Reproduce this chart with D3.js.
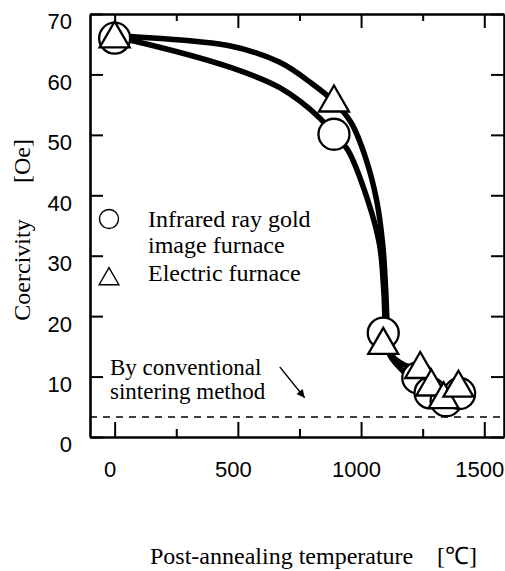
<!DOCTYPE html>
<html>
<head>
<meta charset="utf-8">
<script src="https://cdn.jsdelivr.net/npm/d3@7/dist/d3.min.js"></script>
<style>
  body { margin: 0; background: #fff; }
</style>
</head>
<body>
<div id="chart"></div>
<script>
/* global d3 */

// measured points
const tempIR = [0, 890, 1090, 1230, 1280, 1345, 1400]
const coerIR = [66, 50.1, 17.2, 9.8, 7.3, 6.0, 7.2]
const tempEF = [0, 890, 1090, 1240, 1285, 1335, 1395]
const coerEF = [65.9, 55.3, 15.2, 11.2, 8.3, 6.2, 8.1]

// trend curves as drawn in the figure
const lineTempIR = [0, 61, 467, 670, 832, 889, 946, 1027, 1075, 1092, 1100, 1116, 1197, 1278, 1347, 1408]
const lineCoerIR = [66.2, 65.7, 61.2, 57.8, 52.8, 50.1, 47.5, 39.2, 31.8, 24.3, 17.7, 13.6, 9.9, 7.4, 6.1, 7.3]
const lineTempEF = [0, 470, 670, 800, 890, 960, 1020, 1063, 1088, 1100, 1108, 1124, 1177, 1242, 1286, 1335, 1396]
const lineCoerEF = [66.4, 64.7, 62.0, 58.5, 55.5, 52.0, 46.0, 39.2, 31.8, 24.3, 17.7, 13.6, 11.9, 11.2, 8.3, 6.4, 8.1]

const xMajor = [0, 500, 1000, 1500]
const xMinor = [250, 750, 1250]
const yTicks = [0, 10, 20, 30, 40, 50, 60, 70]
const sinteringLevel = 3.3
const arrowFrom = [670, 11.6]
const arrowTo = [771, 6.5]

const width = 505,
  height = 571
const plotLeft = 90, plotRight = 504, plotTop = 14, plotBottom = 437
const serif = '"Liberation Serif", "Times New Roman", serif'
const sans = '"Liberation Sans", Arial, sans-serif'

let svg = d3.select('#chart')
  .append('svg')
  .attr('width', width)
  .attr('height', height)
  .style('background', '#fff')

const x = d3.scaleLinear().domain([-100, 1580]).range([plotLeft, plotRight])
const y = d3.scaleLinear().domain([0, 70]).range([plotBottom, plotTop])

const styleAxis = (g) => {
  g.attr('font-family', sans).attr('font-size', 22)
  g.select('.domain').attr('stroke', '#000').attr('stroke-width', 2.6)
  g.selectAll('.tick line').attr('stroke', '#000').attr('stroke-width', 2)
  g.selectAll('.tick text').attr('fill', '#000')
}

// bottom axis
svg.append('g')
  .attr('transform', `translate(0,${plotBottom})`)
  .call(d3.axisBottom(x).tickValues(xMajor).tickFormat(d3.format('d'))
    .tickSizeInner(-15).tickSizeOuter(0).tickPadding(24))
  .call(styleAxis)
  .call(g => g.selectAll('.tick text').attr('dx', -5))

svg.append('g')
  .attr('transform', `translate(0,${plotBottom})`)
  .call(d3.axisBottom(x).tickValues(xMinor).tickSize(-8).tickFormat(''))
  .call(styleAxis)
  .call(g => g.select('.domain').remove())

// top axis
svg.append('g')
  .attr('transform', `translate(0,${plotTop})`)
  .call(d3.axisTop(x).tickValues(xMajor).tickSizeInner(-14).tickSizeOuter(0).tickFormat(''))
  .call(styleAxis)

svg.append('g')
  .attr('transform', `translate(0,${plotTop})`)
  .call(d3.axisTop(x).tickValues(xMinor).tickSize(-7).tickFormat(''))
  .call(styleAxis)
  .call(g => g.select('.domain').remove())

// left axis
svg.append('g')
  .attr('transform', `translate(${plotLeft},0)`)
  .call(d3.axisLeft(y).tickValues(yTicks).tickSizeInner(-13).tickSizeOuter(0).tickPadding(18))
  .call(styleAxis)
  .call(g => g.selectAll('.tick text').attr('dy', '0.68em'))

// right axis
svg.append('g')
  .attr('transform', `translate(${plotRight},0)`)
  .call(d3.axisRight(y).tickValues(yTicks).tickSizeInner(-13).tickSizeOuter(0).tickFormat(''))
  .call(styleAxis)

// conventional sintering level
svg.append('line')
  .attr('x1', x.range()[0])
  .attr('x2', x.range()[1])
  .attr('y1', y(sinteringLevel))
  .attr('y2', y(sinteringLevel))
  .attr('stroke', '#000')
  .attr('stroke-width', 1.5)
  .attr('stroke-dasharray', '7,6')

// trend curves
const line = d3.line()
  .x(d => x(d[0]))
  .y(d => y(d[1]))
  .curve(d3.curveCatmullRom.alpha(0.5))

svg.append('path')
  .datum(d3.zip(lineTempIR, lineCoerIR))
  .attr('d', line)
  .attr('fill', 'none')
  .attr('stroke', '#000')
  .attr('stroke-width', 5.5)

svg.append('path')
  .datum(d3.zip(lineTempEF, lineCoerEF))
  .attr('d', line)
  .attr('fill', 'none')
  .attr('stroke', '#000')
  .attr('stroke-width', 5.5)

// markers
svg.selectAll('circle.ir')
  .data(d3.zip(tempIR, coerIR))
  .enter()
  .append('circle')
  .attr('class', 'ir')
  .attr('cx', d => x(d[0]))
  .attr('cy', d => y(d[1]))
  .attr('r', 15.5)
  .attr('fill', '#fff')
  .attr('stroke', '#000')
  .attr('stroke-width', 2.3)

const tri = d3.symbol(d3.symbolTriangle, 390)

svg.selectAll('path.ef')
  .data(d3.zip(tempEF, coerEF))
  .enter()
  .append('path')
  .attr('class', 'ef')
  .attr('d', tri)
  .attr('transform', d => `translate(${x(d[0])},${y(d[1])})`)
  .attr('fill', '#fff')
  .attr('stroke', '#000')
  .attr('stroke-width', 2.3)
  .attr('stroke-linejoin', 'miter')

// legend
svg.append('circle')
  .attr('cx', 109).attr('cy', 219).attr('r', 9.5)
  .attr('fill', '#fff').attr('stroke', '#000').attr('stroke-width', 1.4)

svg.append('path')
  .attr('d', d3.symbol(d3.symbolTriangle, 170)())
  .attr('transform', 'translate(109,279)')
  .attr('fill', '#fff').attr('stroke', '#000').attr('stroke-width', 1.4)

const label = (tx, ty, str, size = 24) => svg.append('text')
  .attr('x', tx).attr('y', ty)
  .attr('font-family', serif)
  .attr('font-size', size)
  .attr('fill', '#000')
  .text(str)

label(148, 227, 'Infrared ray gold')
label(148, 253, 'image furnace')
label(148, 281, 'Electric furnace')

// annotation
label(110, 375, 'By conventional', 23)
label(110, 399, 'sintering method', 23)

svg.append('defs').append('marker')
  .attr('id', 'arrow')
  .attr('viewBox', '0 0 10 10')
  .attr('refX', 10).attr('refY', 5)
  .attr('markerWidth', 10).attr('markerHeight', 8)
  .attr('markerUnits', 'userSpaceOnUse')
  .attr('orient', 'auto')
  .append('path')
  .attr('d', 'M0,0L10,5L0,10Z')
  .attr('fill', '#000')

svg.append('line')
  .attr('x1', x(arrowFrom[0])).attr('y1', y(arrowFrom[1]))
  .attr('x2', x(arrowTo[0])).attr('y2', y(arrowTo[1]))
  .attr('stroke', '#000')
  .attr('stroke-width', 1.4)
  .attr('marker-end', 'url(#arrow)')

// axis titles
svg.append('text')
  .attr('transform', 'translate(30,270) rotate(-90)')
  .attr('text-anchor', 'middle')
  .attr('font-family', serif)
  .attr('font-size', 24)
  .text('Coercivity')

svg.append('text')
  .attr('transform', 'translate(30,161) rotate(-90)')
  .attr('text-anchor', 'middle')
  .attr('font-family', serif)
  .attr('font-size', 24)
  .text('[Oe]')

label(150, 564, 'Post-annealing temperature')
label(437, 564, '[℃]')
</script>
</body>
</html>
